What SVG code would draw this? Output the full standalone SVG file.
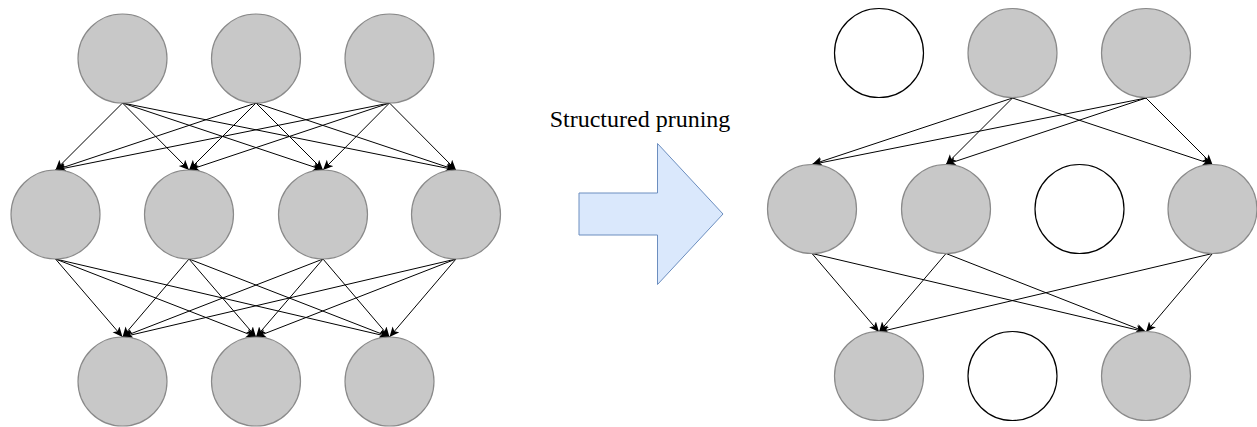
<svg xmlns="http://www.w3.org/2000/svg" width="1257" height="427" viewBox="0 0 1257 427">
  <style>
    .on { fill: #c8c8c8; stroke: #8a8a8a; stroke-width: 1.2; }
    .off { fill: #ffffff; stroke: #000000; stroke-width: 1.2; }
    .edge { stroke: #000000; stroke-width: 1; fill: none; marker-end: url(#head); }
    .label { font-family: "Liberation Serif", "Times New Roman", serif; font-size: 24px; fill: #000000; }
  </style>
  <defs>
    <marker id="head" markerUnits="userSpaceOnUse" markerWidth="12" markerHeight="10" refX="10" refY="4.5" orient="auto">
      <path d="M10,4.5 L0,0 L2.5,4.5 L0,9 Z" fill="#000000"/>
    </marker>
  </defs>

  <rect width="1257" height="427" fill="#ffffff"/>

  <!-- connectors -->
  <g id="connectors">
    <!-- dense network: input layer to hidden layer -->
    <line class="edge" x1="122.5" y1="103" x2="55.5" y2="170"/>
    <line class="edge" x1="122.5" y1="103" x2="189" y2="170"/>
    <line class="edge" x1="122.5" y1="103" x2="323" y2="170"/>
    <line class="edge" x1="122.5" y1="103" x2="456" y2="170"/>
    <line class="edge" x1="256" y1="103" x2="55.5" y2="170"/>
    <line class="edge" x1="256" y1="103" x2="189" y2="170"/>
    <line class="edge" x1="256" y1="103" x2="323" y2="170"/>
    <line class="edge" x1="256" y1="103" x2="456" y2="170"/>
    <line class="edge" x1="389.5" y1="103" x2="55.5" y2="170"/>
    <line class="edge" x1="389.5" y1="103" x2="189" y2="170"/>
    <line class="edge" x1="389.5" y1="103" x2="323" y2="170"/>
    <line class="edge" x1="389.5" y1="103" x2="456" y2="170"/>
    <!-- dense network: hidden layer to output layer -->
    <line class="edge" x1="55.5" y1="259" x2="122.5" y2="337"/>
    <line class="edge" x1="55.5" y1="259" x2="256" y2="337"/>
    <line class="edge" x1="55.5" y1="259" x2="389.5" y2="337"/>
    <line class="edge" x1="189" y1="259" x2="122.5" y2="337"/>
    <line class="edge" x1="189" y1="259" x2="256" y2="337"/>
    <line class="edge" x1="189" y1="259" x2="389.5" y2="337"/>
    <line class="edge" x1="323" y1="259" x2="122.5" y2="337"/>
    <line class="edge" x1="323" y1="259" x2="256" y2="337"/>
    <line class="edge" x1="323" y1="259" x2="389.5" y2="337"/>
    <line class="edge" x1="456" y1="259" x2="122.5" y2="337"/>
    <line class="edge" x1="456" y1="259" x2="256" y2="337"/>
    <line class="edge" x1="456" y1="259" x2="389.5" y2="337"/>

    <!-- pruned network: input layer to hidden layer -->
    <line class="edge" x1="1012.5" y1="98" x2="812" y2="164.5"/>
    <line class="edge" x1="1012.5" y1="98" x2="946" y2="164.5"/>
    <line class="edge" x1="1012.5" y1="98" x2="1212.5" y2="164.5"/>
    <line class="edge" x1="1146" y1="98" x2="812" y2="164.5"/>
    <line class="edge" x1="1146" y1="98" x2="946" y2="164.5"/>
    <line class="edge" x1="1146" y1="98" x2="1212.5" y2="164.5"/>
    <!-- pruned network: hidden layer to output layer -->
    <line class="edge" x1="812" y1="253.5" x2="879" y2="332"/>
    <line class="edge" x1="812" y1="253.5" x2="1146" y2="332"/>
    <line class="edge" x1="946" y1="253.5" x2="879" y2="332"/>
    <line class="edge" x1="946" y1="253.5" x2="1146" y2="332"/>
    <line class="edge" x1="1212.5" y1="253.5" x2="879" y2="332"/>
    <line class="edge" x1="1212.5" y1="253.5" x2="1146" y2="332"/>
  </g>

  <!-- dense network nodes -->
  <g id="dense-in-1"><circle class="on" cx="122.5" cy="58.5" r="44.5"/></g>
  <g id="dense-in-2"><circle class="on" cx="256" cy="58.5" r="44.5"/></g>
  <g id="dense-in-3"><circle class="on" cx="389.5" cy="58.5" r="44.5"/></g>
  <g id="dense-hid-1"><circle class="on" cx="55.5" cy="214.5" r="44.5"/></g>
  <g id="dense-hid-2"><circle class="on" cx="189" cy="214.5" r="44.5"/></g>
  <g id="dense-hid-3"><circle class="on" cx="323" cy="214.5" r="44.5"/></g>
  <g id="dense-hid-4"><circle class="on" cx="456" cy="214.5" r="44.5"/></g>
  <g id="dense-out-1"><circle class="on" cx="122.5" cy="381.5" r="44.5"/></g>
  <g id="dense-out-2"><circle class="on" cx="256" cy="381.5" r="44.5"/></g>
  <g id="dense-out-3"><circle class="on" cx="389.5" cy="381.5" r="44.5"/></g>

  <!-- transition arrow with caption -->
  <g id="pruning-arrow">
    <text class="label" x="640" y="127" text-anchor="middle">Structured pruning</text>
    <path d="M579,193 L657.5,193 L657.5,143.5 L723,214 L657.5,284.5 L657.5,235 L579,235 Z" fill="#dae8fc" stroke="#6c8ebf" stroke-width="1"/>
  </g>

  <!-- pruned network nodes -->
  <g id="pruned-in-1"><circle class="off" cx="879" cy="53" r="44.5"/></g>
  <g id="pruned-in-2"><circle class="on" cx="1012.5" cy="53" r="44.5"/></g>
  <g id="pruned-in-3"><circle class="on" cx="1146" cy="53" r="44.5"/></g>
  <g id="pruned-hid-1"><circle class="on" cx="812" cy="209" r="44.5"/></g>
  <g id="pruned-hid-2"><circle class="on" cx="946" cy="209" r="44.5"/></g>
  <g id="pruned-hid-3"><circle class="off" cx="1079.5" cy="209" r="44.5"/></g>
  <g id="pruned-hid-4"><circle class="on" cx="1212.5" cy="209" r="44.5"/></g>
  <g id="pruned-out-1"><circle class="on" cx="879" cy="376" r="44.5"/></g>
  <g id="pruned-out-2"><circle class="off" cx="1012.5" cy="376" r="44.5"/></g>
  <g id="pruned-out-3"><circle class="on" cx="1146" cy="376" r="44.5"/></g>
</svg>
